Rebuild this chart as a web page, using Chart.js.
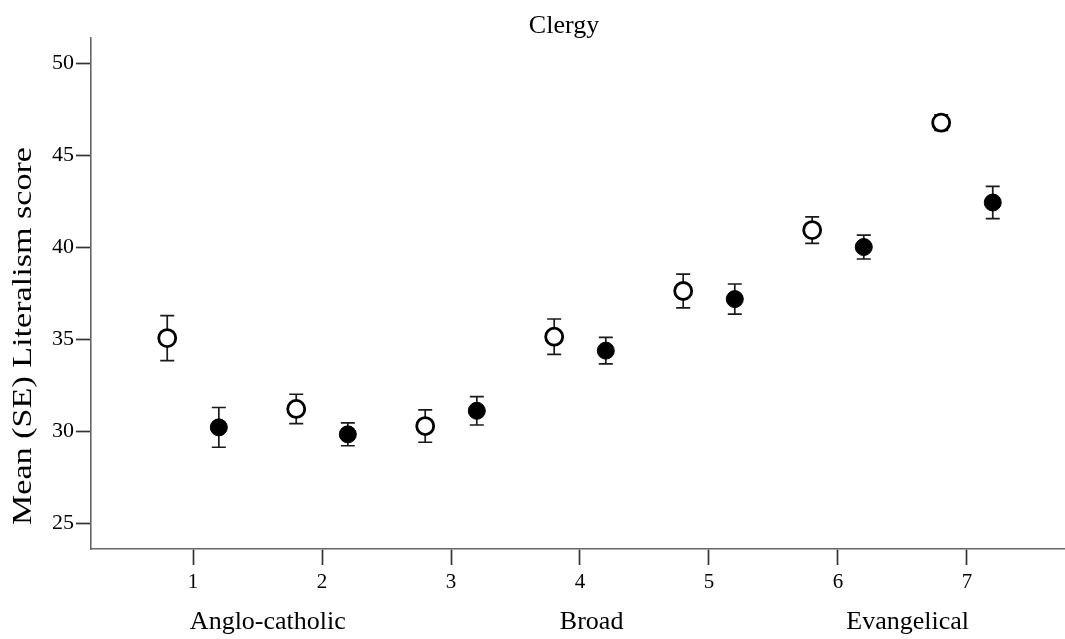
<!DOCTYPE html>
<html>
<head>
<meta charset="utf-8">
<script src="https://cdn.jsdelivr.net/npm/chart.js@4.4.1/dist/chart.umd.min.js"></script>
<style>
html,body{margin:0;padding:0;background:#fff;}
#wrap{width:1065px;height:639px;}
</style>
</head>
<body>
<div id="wrap"><canvas id="c" width="1065" height="639"></canvas></div>
<script>
// ---- data ----
const categories = [1, 2, 3, 4, 5, 6, 7];
const yTicks = [25, 30, 35, 40, 45, 50];
const openMeans   = [35.05, 31.20, 30.27, 35.13, 37.61, 40.92, 46.76];
const openSE      = [1.22, 0.80, 0.88, 0.96, 0.92, 0.72, 0.42];
const filledMeans = [30.20, 29.82, 31.10, 34.37, 37.17, 40.00, 42.42];
const filledSE    = [1.08, 0.62, 0.77, 0.72, 0.82, 0.65, 0.88];
const groupLabels = ['Anglo-catholic', 'Broad', 'Evangelical'];
const groupLabelAt = [1.58, 4.09, 6.54];
const titleText = 'Clergy';
const yTitle = 'Mean (SE) Literalism score';

const dodge = 0.2;
const SERIF = '"Liberation Serif", "Times New Roman", serif';

const openData = categories.map((c, i) => ({x: c - dodge, y: openMeans[i], se: openSE[i]}));
const filledData = categories.map((c, i) => ({x: c + dodge, y: filledMeans[i], se: filledSE[i]}));

const errorBars = {
  id: 'errorBars',
  beforeDatasetsDraw(chart) {
    const ctx = chart.ctx;
    const xs = chart.scales.x, ys = chart.scales.y;
    ctx.save();
    ctx.strokeStyle = '#1a1a1a';
    ctx.lineWidth = 1.7;
    chart.data.datasets.forEach(ds => {
      ds.data.forEach(p => {
        const px = xs.getPixelForValue(p.x);
        const top = ys.getPixelForValue(p.y + p.se);
        const bot = ys.getPixelForValue(p.y - p.se);
        ctx.beginPath();
        ctx.moveTo(px, top); ctx.lineTo(px, bot);
        ctx.moveTo(px - 7, top); ctx.lineTo(px + 7, top);
        ctx.moveTo(px - 7, bot); ctx.lineTo(px + 7, bot);
        ctx.stroke();
      });
    });
    ctx.restore();
  }
};

const texts = {
  id: 'texts',
  afterDraw(chart) {
    const ctx = chart.ctx;
    const xs = chart.scales.x;
    ctx.save();
    ctx.fillStyle = '#000';
    ctx.textAlign = 'center';
    ctx.textBaseline = 'alphabetic';
    ctx.font = '26px ' + SERIF;
    ctx.fillText(titleText, 564, 33);
    groupLabels.forEach((t, i) => {
      ctx.fillText(t, xs.getPixelForValue(groupLabelAt[i]), 629);
    });
    // y-axis title (drawn elongated along its length like the reference)
    ctx.font = '27px ' + SERIF;
    const w = ctx.measureText(yTitle).width;
    const sx = 378 / w;
    ctx.translate(24, 336);
    ctx.rotate(-Math.PI / 2);
    ctx.scale(sx, 1);
    ctx.textBaseline = 'middle';
    ctx.fillText(yTitle, 0, 0);
    ctx.restore();
  }
};

new Chart(document.getElementById('c'), {
  type: 'scatter',
  data: {
    datasets: [
      {
        label: 'open',
        data: openData,
        pointStyle: 'circle',
        pointRadius: 8.5,
        pointBorderWidth: 2.8,
        pointBackgroundColor: '#fff',
        pointBorderColor: '#000',
        pointHoverRadius: 8.5
      },
      {
        label: 'filled',
        data: filledData,
        pointStyle: 'circle',
        pointRadius: 8.5,
        pointBorderWidth: 1,
        pointBackgroundColor: '#000',
        pointBorderColor: '#000',
        pointHoverRadius: 8.5
      }
    ]
  },
  options: {
    responsive: false,
    devicePixelRatio: 1,
    animation: false,
    layout: {autoPadding: false, padding: {top: 38, right: 0, left: 0, bottom: 0}},
    plugins: {legend: {display: false}, title: {display: false}, tooltip: {enabled: false}},
    scales: {
      x: {
        type: 'linear',
        min: 0.209,
        max: 7.76,
        afterBuildTicks: s => { s.ticks = categories.map(v => ({value: v})); },
        afterFit: s => { s.height = 90; s.paddingLeft = 0; s.paddingRight = 0; },
        ticks: {
          color: '#000',
          font: {family: SERIF, size: 21},
          padding: 5,
          maxRotation: 0,
          autoSkip: false,
          callback: v => String(v)
        },
        grid: {drawOnChartArea: false, drawTicks: true, tickLength: 16, tickColor: '#333', tickWidth: 1.7},
        border: {color: '#666', width: 1.6}
      },
      y: {
        min: 23.59,
        max: 51.36,
        afterBuildTicks: s => { s.ticks = yTicks.map(v => ({value: v})); },
        afterFit: s => { s.width = 91; },
        ticks: {
          color: '#000',
          font: {family: SERIF, size: 22},
          padding: 2,
          autoSkip: false,
          callback: v => String(v)
        },
        title: {display: false},
        grid: {drawOnChartArea: false, drawTicks: true, tickLength: 15, tickColor: '#333', tickWidth: 1.7},
        border: {color: '#666', width: 1.6}
      }
    }
  },
  plugins: [errorBars, texts]
});
</script>
</body>
</html>
